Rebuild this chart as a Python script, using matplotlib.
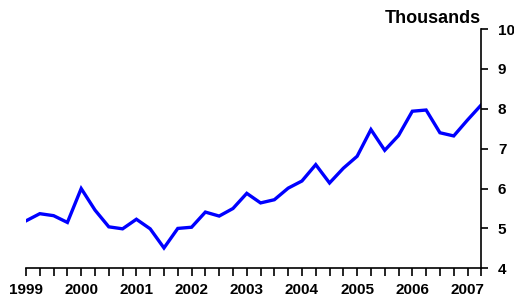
import numpy as np
import matplotlib.pyplot as plt
from matplotlib.ticker import MultipleLocator

plt.rcParams['font.family'] = 'Liberation Sans'
plt.rcParams['font.weight'] = 'bold'

# quarterly values, thousands, 1999Q1 .. 2007Q2
values = [5.19, 5.37, 5.32, 5.15, 6.00, 5.46, 5.04, 4.99,
          5.23, 4.99, 4.51, 5.00, 5.03, 5.41, 5.31, 5.50,
          5.88, 5.64, 5.72, 6.01, 6.19, 6.60, 6.14, 6.51,
          6.81, 7.48, 6.96, 7.33, 7.94, 7.97, 7.40, 7.32,
          7.72, 8.10]
t = 1999 + 0.25*np.arange(len(values))
years = list(range(1999, 2008))

fig = plt.figure(figsize=(5.14, 2.99), dpi=100)
ax = fig.add_axes([0.0506, 0.1027, 0.8858, 0.800])
ax.plot(t, values, color='#0000ff', lw=2.4, solid_joinstyle='miter')

ax.set_xlim(1999, 2007.25)
ax.set_ylim(4, 10)
ax.set_xticks(years)
ax.set_xticklabels([str(y) for y in years])
ax.xaxis.set_minor_locator(MultipleLocator(0.25))
ax.set_yticks(range(4, 11))

ax.spines['top'].set_visible(False)
ax.spines['left'].set_visible(False)
ax.spines['bottom'].set_linewidth(1.2)
ax.spines['right'].set_linewidth(1.2)
ax.yaxis.tick_right()
ax.tick_params(axis='x', which='both', direction='out', length=5.5, width=1.2,
               labelsize=11, pad=5)
ax.tick_params(axis='y', direction='out', length=5, width=1.2,
               labelsize=11, pad=7)

fig.text(481/514, 1 - 22.7/299, 'Thousands', ha='right', va='baseline',
         fontsize=13, fontweight='bold')

plt.savefig('out.png', dpi=100)
